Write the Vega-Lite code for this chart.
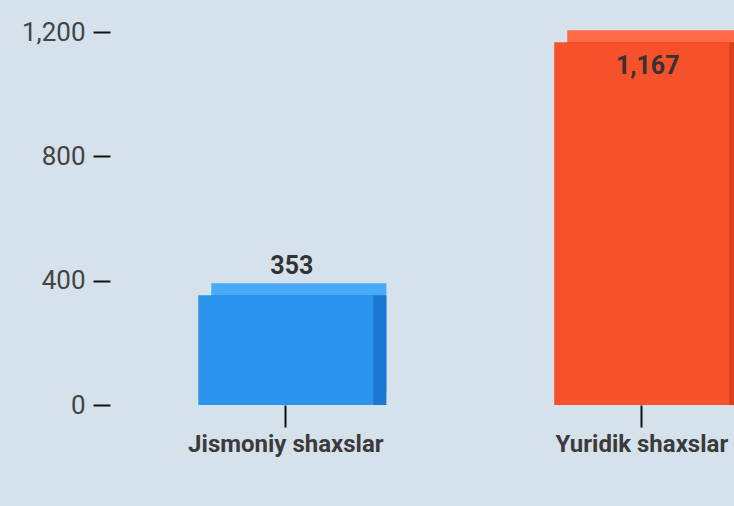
{
  "$schema": "https://vega.github.io/schema/vega-lite/v6.json",
  "autosize": "none",
  "width": 624,
  "height": 373,
  "padding": {"left": 110, "top": 32, "right": 0, "bottom": 101},
  "background": "#d5e2eb",
  "config": {
    "view": {"stroke": null},
    "font": "Roboto"
  },
  "data": {
    "values": [
      {"category": "Jismoniy shaxslar", "value": 353},
      {"category": "Yuridik shaxslar", "value": 1167}
    ]
  },
  "encoding": {
    "x": {
      "field": "category",
      "type": "nominal",
      "sort": null,
      "title": null,
      "scale": {"paddingInner": 0.508, "paddingOuter": 0.1305, "align": 0.95},
      "axis": {
        "labelAngle": 0,
        "labelFont": "Roboto",
        "labelFontSize": 24,
        "labelFontWeight": "bold",
        "labelColor": "#3b3b3b",
        "labelPadding": 5,
        "labelLimit": 0,
        "tickColor": "#111111",
        "tickWidth": 2,
        "tickSize": 22,
        "domain": false,
        "grid": false
      }
    },
    "y": {
      "field": "value",
      "type": "quantitative",
      "title": null,
      "scale": {"domain": [0, 1200], "nice": false},
      "axis": {
        "values": [0, 400, 800, 1200],
        "format": ",.0f",
        "labelFont": "Roboto",
        "labelFontSize": 26,
        "labelColor": "#444444",
        "labelPadding": 8,
        "tickColor": "#111111",
        "tickWidth": 2,
        "tickSize": 17,
        "domain": false,
        "grid": false
      }
    }
  },
  "layer": [
    {
      "mark": {"type": "bar", "xOffset": 13, "yOffset": -12, "y2Offset": -12},
      "encoding": {
        "color": {"field": "category", "type": "nominal", "sort": null, "legend": null,
          "scale": {"range": ["#48aaf8", "#ff6b47"]}}
      }
    },
    {
      "mark": {"type": "bar", "xOffset": 13, "yOffset": 0, "y2Offset": -12},
      "encoding": {
        "color": {"field": "category", "type": "nominal", "sort": null, "legend": null,
          "scale": {"range": ["#1a78d2", "#d9411d"]}}
      }
    },
    {
      "mark": {"type": "bar"},
      "encoding": {
        "color": {"field": "category", "type": "nominal", "sort": null, "legend": null,
          "scale": {"range": ["#2b94ec", "#f7512b"]}}
      }
    },
    {
      "transform": [{"filter": "datum.value < 1000"}],
      "mark": {"type": "text", "baseline": "bottom", "dy": -16, "dx": 6, "font": "Roboto", "fontSize": 25, "fontWeight": "bold", "color": "#333333"},
      "encoding": {"text": {"field": "value", "format": ",.0f"}}
    },
    {
      "transform": [{"filter": "datum.value >= 1000"}],
      "mark": {"type": "text", "baseline": "top", "dy": 12, "dx": 6, "font": "Roboto", "fontSize": 25, "fontWeight": "bold", "color": "#333333"},
      "encoding": {"text": {"field": "value", "format": ",.0f"}}
    }
  ],
  "resolve": {"scale": {"color": "independent"}}
}
